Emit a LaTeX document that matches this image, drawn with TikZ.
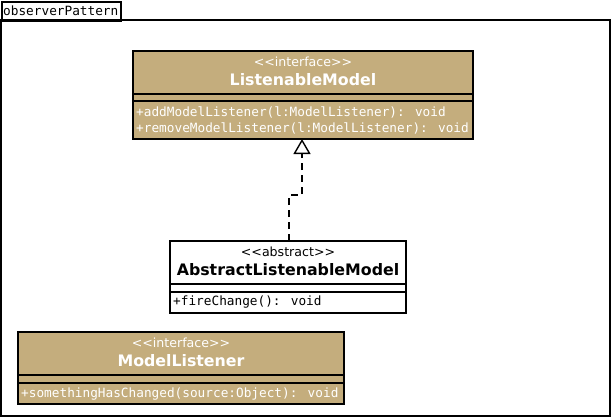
\documentclass[tikz,border=0pt]{standalone}
\usepackage{fontspec}
\setmainfont{DejaVu Sans}
\newfontfamily\monofont{DejaVu Sans Mono}
\usetikzlibrary{arrows.meta}
\definecolor{umltan}{RGB}{196,173,125}
\tikzset{
  x=1pt, y=-1pt,
  comp/.style={draw=black, line width=2pt, inner sep=0pt, outer sep=0pt, anchor=north west},
  tanbox/.style={comp, fill=umltan},
  whitebox/.style={comp, fill=white},
  stereo/.style={font=\fontsize{12.6}{14}\selectfont, inner sep=0pt},
  cname/.style={font=\fontsize{15.8}{18}\bfseries\selectfont, inner sep=0pt},
  meth/.style={font=\monofont\fontsize{12.75}{16}\selectfont, inner sep=0pt, anchor=west, align=left},
  realize/.style={line width=2pt, dash pattern=on 7pt off 5pt, -{Triangle[open, length=15pt, width=17pt, line width=1.4pt]}},
}
\begin{document}
\begin{tikzpicture}
\useasboundingbox (0,0) rectangle (613,420);
% package frame
\draw[line width=2pt] (1,20) rectangle (610,416);
\node[draw=black, line width=2pt, anchor=north west, minimum width=119pt, minimum height=19pt, inner sep=0pt] (pkg) at (1,1) {};
\node[meth] (pkgname) at (3,11) {observerPattern};

% ListenableModel
\node[tanbox, minimum width=340pt, minimum height=43pt] (lmN) at (133,51) {};
\node[tanbox, minimum width=340pt, minimum height=7pt] (lmA) at (133,94) {};
\node[tanbox, minimum width=340pt, minimum height=38pt] (lmM) at (133,101) {};
\node[stereo, text=white] (lmS) at (303,62) {{<}{<}interface{>}{>}};
\node[cname, text=white] (lmT) at (303,80) {ListenableModel};
\node[meth, text=white] (lmM1) at (136,112) {+addModelListener(l:ModelListener): void};
\node[meth, text=white] (lmM2) at (136,128) {+removeModelListener(l:ModelListener): void};

% AbstractListenableModel
\node[whitebox, minimum width=236pt, minimum height=43pt] (alN) at (170,241) {};
\node[whitebox, minimum width=236pt, minimum height=8pt] (alA) at (170,284) {};
\node[whitebox, minimum width=236pt, minimum height=21pt] (alM) at (170,292) {};
\node[stereo] (alS) at (288,252) {{<}{<}abstract{>}{>}};
\node[cname] (alT) at (288,270) {AbstractListenableModel};
\node[meth] (alM1) at (173,302) {+fireChange(): void};

% ModelListener
\node[tanbox, minimum width=326pt, minimum height=43pt] (mlN) at (18,332) {};
\node[tanbox, minimum width=326pt, minimum height=8pt] (mlA) at (18,375) {};
\node[tanbox, minimum width=326pt, minimum height=21pt] (mlM) at (18,383) {};
\node[stereo, text=white] (mlS) at (181,343) {{<}{<}interface{>}{>}};
\node[cname, text=white] (mlT) at (181,361) {ModelListener};
\node[meth, text=white] (mlM1) at (21,394) {+somethingHasChanged(source:Object): void};

% realization
\coordinate (b1) at (289,195);
\coordinate (b2) at (302,195);
\draw[realize] (alN.north -| b1) -- (b1) -- (b2) -- (lmM.south -| b2);
\end{tikzpicture}
\end{document}
